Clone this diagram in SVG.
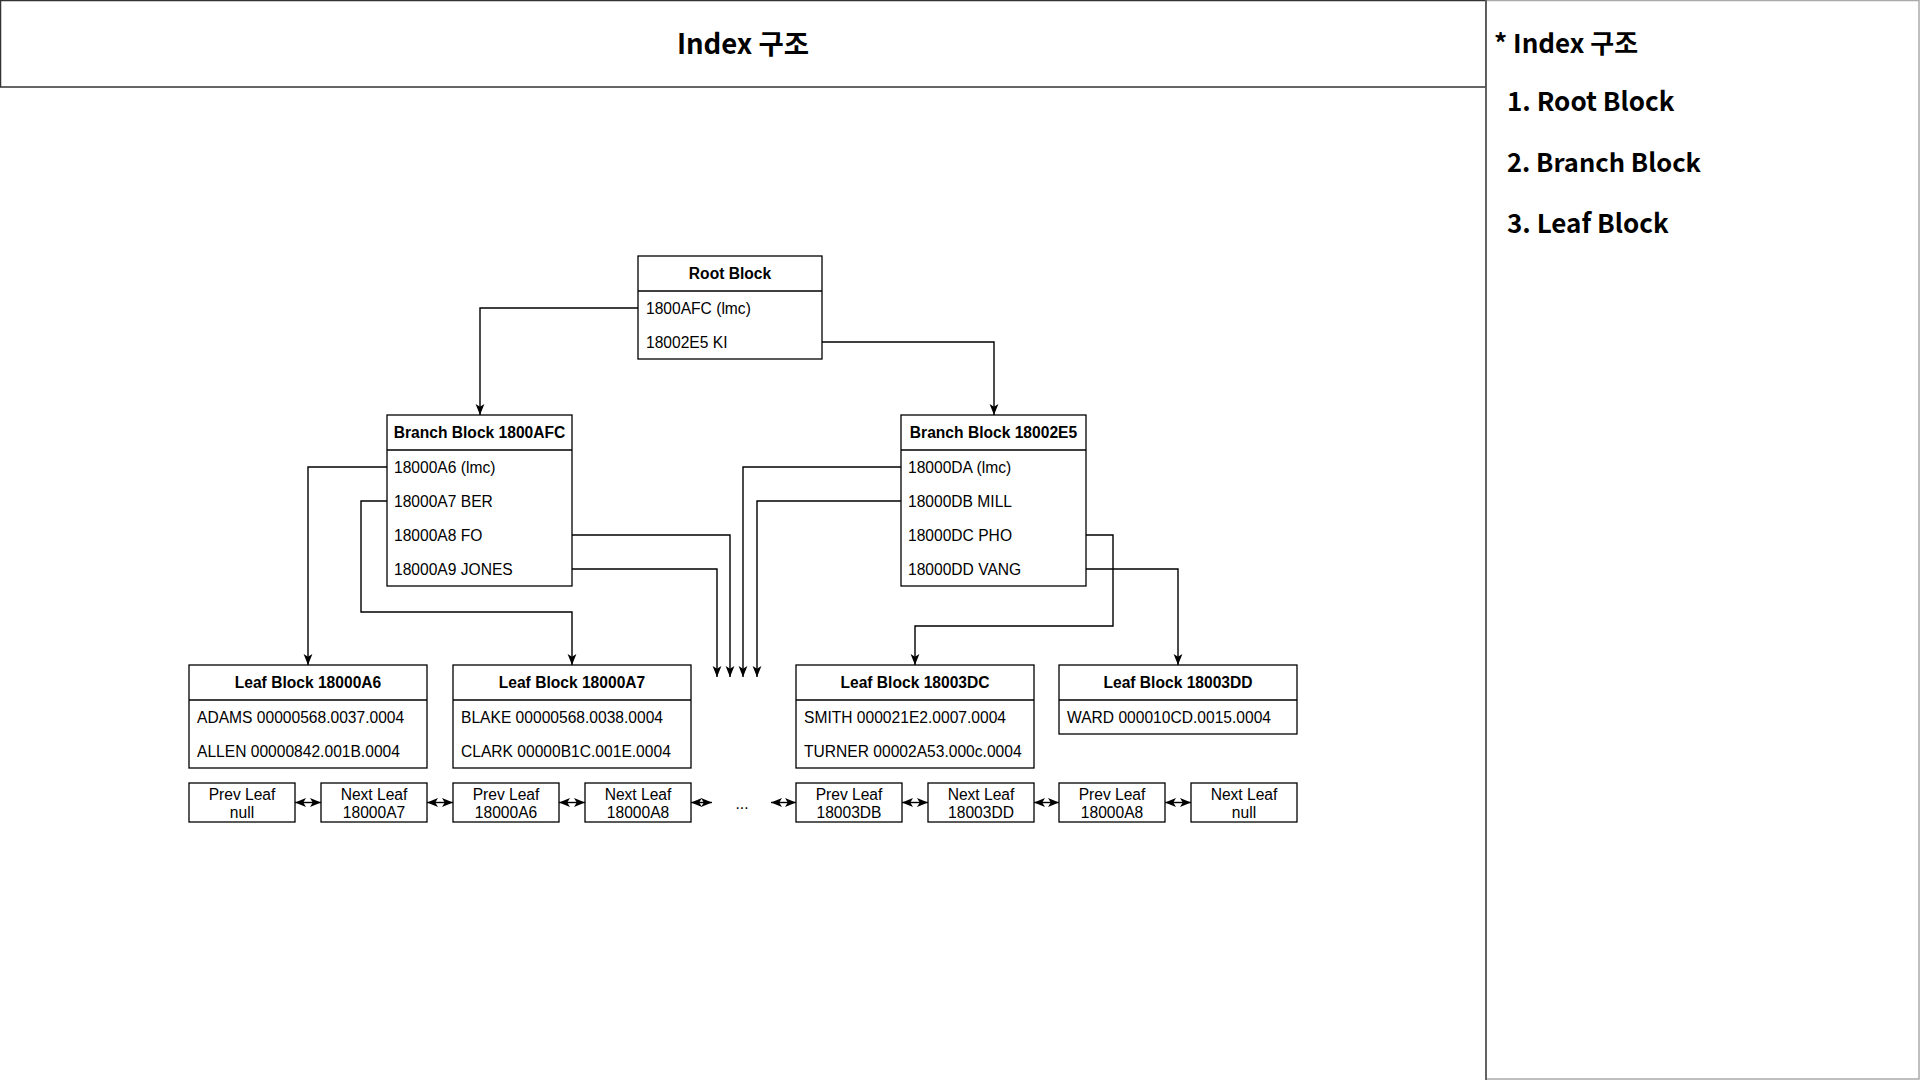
<svg xmlns="http://www.w3.org/2000/svg" width="1920" height="1080" viewBox="0 0 1920 1080">
<defs>
<style>
.frame{fill:#fff;stroke:#333;stroke-width:1.5}
.panel{fill:#fff;stroke:#aaa;stroke-width:1.5}
.box{fill:#fff;stroke:#000;stroke-width:1.3}
.sep{stroke:#000;stroke-width:1.3}
.hd{font-family:"Liberation Sans",Arial,sans-serif;font-size:15.6px;font-weight:bold;fill:#000;text-anchor:middle}
.tx{font-family:"Liberation Sans",Arial,sans-serif;font-size:15.6px;fill:#000}
.ct{font-family:"Liberation Sans",Arial,sans-serif;font-size:15.6px;fill:#000;text-anchor:middle}
.big{font-family:"Noto Sans CJK KR","Noto Sans",sans-serif;font-weight:bold;fill:#000}
.conn{fill:none;stroke:#000;stroke-width:1.4}
</style>
<marker id="ah" markerUnits="userSpaceOnUse" markerWidth="11" markerHeight="11" viewBox="0 0 10 10" refX="10" refY="5" orient="auto-start-reverse">
<path d="M0,1 L10,5 L0,9 L2.5,5 z" fill="#000"/>
</marker>
</defs>
<rect width="1920" height="1080" fill="#fff"/>

<g id="header">
<rect class="frame" x="0.5" y="0.5" width="1485.5" height="86.5"/>
<text class="big" x="743" y="54" font-size="27.5" text-anchor="middle">Index 구조</text>
</g>
<g id="side-panel">
<rect class="panel" x="1486" y="0.5" width="433" height="1078.5"/>
<line x1="1486" y1="0" x2="1486" y2="1080" stroke="#444" stroke-width="1.5"/>
<text class="big" x="1494" y="53" font-size="26">* Index 구조</text>
<text class="big" x="1507" y="111" font-size="26">1. Root Block</text>
<text class="big" x="1507" y="172" font-size="25.5">2. Branch Block</text>
<text class="big" x="1507" y="233" font-size="26">3. Leaf Block</text>
</g>

<g id="connectors">
<path class="conn" d="M638,308 H480 V415" marker-end="url(#ah)"/>
<path class="conn" d="M822,342 H994 V415" marker-end="url(#ah)"/>
<path class="conn" d="M387,467 H308 V665" marker-end="url(#ah)"/>
<path class="conn" d="M387,501 H361 V612 H572 V665" marker-end="url(#ah)"/>
<path class="conn" d="M572,535 H730 V677" marker-end="url(#ah)"/>
<path class="conn" d="M572,569 H717 V677" marker-end="url(#ah)"/>
<path class="conn" d="M901,467 H743 V677" marker-end="url(#ah)"/>
<path class="conn" d="M901,501 H757 V677" marker-end="url(#ah)"/>
<path class="conn" d="M1086,535 H1113 V626 H915 V665" marker-end="url(#ah)"/>
<path class="conn" d="M1086,569 H1178 V665" marker-end="url(#ah)"/>
<path class="conn" d="M295,802.5 H321" marker-start="url(#ah)" marker-end="url(#ah)"/>
<path class="conn" d="M427,802.5 H453" marker-start="url(#ah)" marker-end="url(#ah)"/>
<path class="conn" d="M559,802.5 H585" marker-start="url(#ah)" marker-end="url(#ah)"/>
<path class="conn" d="M691,802.5 H712" marker-start="url(#ah)" marker-end="url(#ah)"/>
<path class="conn" d="M771,802.5 H796" marker-start="url(#ah)" marker-end="url(#ah)"/>
<path class="conn" d="M902,802.5 H928" marker-start="url(#ah)" marker-end="url(#ah)"/>
<path class="conn" d="M1034,802.5 H1059" marker-start="url(#ah)" marker-end="url(#ah)"/>
<path class="conn" d="M1165,802.5 H1191" marker-start="url(#ah)" marker-end="url(#ah)"/>
</g>

<g id="root-block">
<rect class="box" x="638" y="256" width="184" height="103"/>
<line class="sep" x1="638" y1="291" x2="822" y2="291"/>
<text class="hd" x="730" y="279">Root Block</text>
<text class="tx" x="646" y="314">1800AFC (lmc)</text>
<text class="tx" x="646" y="348">18002E5 KI</text>
</g>

<g id="branch-1800AFC">
<rect class="box" x="387" y="415" width="185" height="171"/>
<line class="sep" x1="387" y1="450" x2="572" y2="450"/>
<text class="hd" x="479.5" y="438">Branch Block 1800AFC</text>
<text class="tx" x="394" y="473">18000A6 (lmc)</text>
<text class="tx" x="394" y="507">18000A7 BER</text>
<text class="tx" x="394" y="541">18000A8 FO</text>
<text class="tx" x="394" y="575">18000A9 JONES</text>
</g>

<g id="branch-18002E5">
<rect class="box" x="901" y="415" width="185" height="171"/>
<line class="sep" x1="901" y1="450" x2="1086" y2="450"/>
<text class="hd" x="993.5" y="438">Branch Block 18002E5</text>
<text class="tx" x="908" y="473">18000DA (lmc)</text>
<text class="tx" x="908" y="507">18000DB MILL</text>
<text class="tx" x="908" y="541">18000DC PHO</text>
<text class="tx" x="908" y="575">18000DD VANG</text>
</g>

<g id="leaf-18000A6">
<rect class="box" x="189" y="665" width="238" height="103"/>
<line class="sep" x1="189" y1="700" x2="427" y2="700"/>
<text class="hd" x="308" y="688">Leaf Block 18000A6</text>
<text class="tx" x="197" y="723">ADAMS 00000568.0037.0004</text>
<text class="tx" x="197" y="757">ALLEN 00000842.001B.0004</text>
</g>

<g id="leaf-18000A7">
<rect class="box" x="453" y="665" width="238" height="103"/>
<line class="sep" x1="453" y1="700" x2="691" y2="700"/>
<text class="hd" x="572" y="688">Leaf Block 18000A7</text>
<text class="tx" x="461" y="723">BLAKE 00000568.0038.0004</text>
<text class="tx" x="461" y="757">CLARK 00000B1C.001E.0004</text>
</g>

<g id="leaf-18003DC">
<rect class="box" x="796" y="665" width="238" height="103"/>
<line class="sep" x1="796" y1="700" x2="1034" y2="700"/>
<text class="hd" x="915" y="688">Leaf Block 18003DC</text>
<text class="tx" x="804" y="723">SMITH 000021E2.0007.0004</text>
<text class="tx" x="804" y="757">TURNER 00002A53.000c.0004</text>
</g>

<g id="leaf-18003DD">
<rect class="box" x="1059" y="665" width="238" height="69"/>
<line class="sep" x1="1059" y1="700" x2="1297" y2="700"/>
<text class="hd" x="1178" y="688">Leaf Block 18003DD</text>
<text class="tx" x="1067" y="723">WARD 000010CD.0015.0004</text>
</g>

<g id="prev-a6">
<rect class="box" x="189" y="783" width="106" height="39"/>
<text class="ct" x="242" y="800">Prev Leaf</text>
<text class="ct" x="242" y="818">null</text>
</g>
<g id="next-a6">
<rect class="box" x="321" y="783" width="106" height="39"/>
<text class="ct" x="374" y="800">Next Leaf</text>
<text class="ct" x="374" y="818">18000A7</text>
</g>
<g id="prev-a7">
<rect class="box" x="453" y="783" width="106" height="39"/>
<text class="ct" x="506" y="800">Prev Leaf</text>
<text class="ct" x="506" y="818">18000A6</text>
</g>
<g id="next-a7">
<rect class="box" x="585" y="783" width="106" height="39"/>
<text class="ct" x="638" y="800">Next Leaf</text>
<text class="ct" x="638" y="818">18000A8</text>
</g>
<g id="ellipsis">
<text class="ct" x="742" y="809">...</text>
</g>
<g id="prev-dc">
<rect class="box" x="796" y="783" width="106" height="39"/>
<text class="ct" x="849" y="800">Prev Leaf</text>
<text class="ct" x="849" y="818">18003DB</text>
</g>
<g id="next-dc">
<rect class="box" x="928" y="783" width="106" height="39"/>
<text class="ct" x="981" y="800">Next Leaf</text>
<text class="ct" x="981" y="818">18003DD</text>
</g>
<g id="prev-dd">
<rect class="box" x="1059" y="783" width="106" height="39"/>
<text class="ct" x="1112" y="800">Prev Leaf</text>
<text class="ct" x="1112" y="818">18000A8</text>
</g>
<g id="next-dd">
<rect class="box" x="1191" y="783" width="106" height="39"/>
<text class="ct" x="1244" y="800">Next Leaf</text>
<text class="ct" x="1244" y="818">null</text>
</g>
</svg>
